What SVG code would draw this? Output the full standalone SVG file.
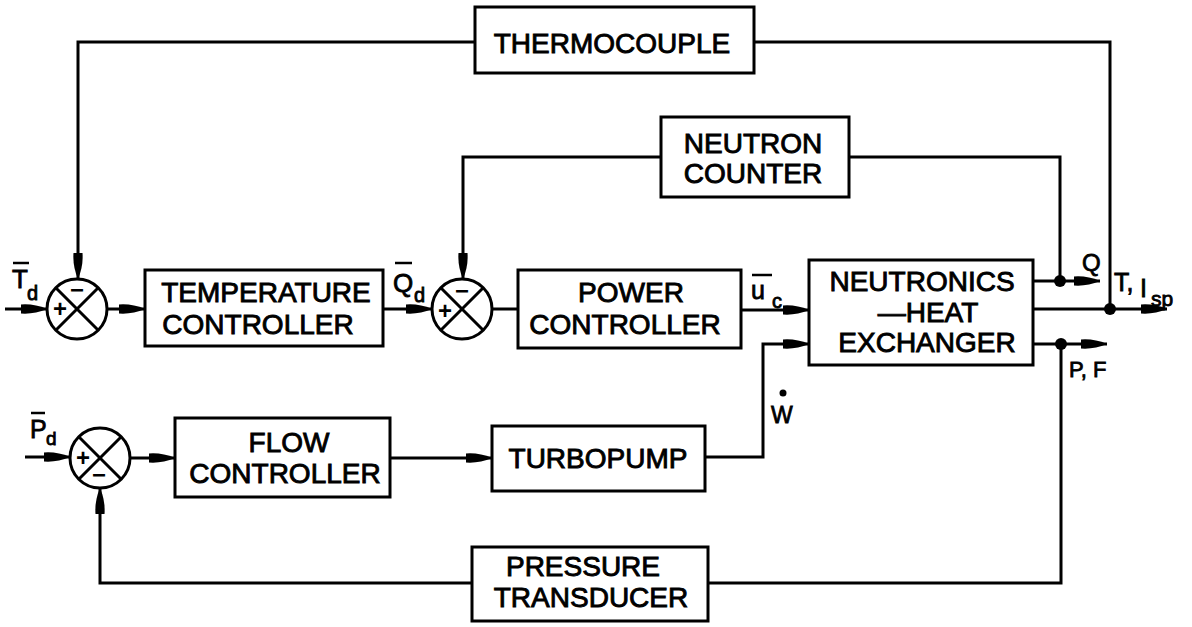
<svg xmlns="http://www.w3.org/2000/svg" width="1192" height="627" viewBox="0 0 1192 627">
<style>
  .box{fill:#fff;stroke:#000;stroke-width:3}
  .lbl{font-family:"Liberation Sans",Arial,sans-serif;font-size:28px;fill:#000;stroke:#000;stroke-width:0.9;text-anchor:middle}
  .sym{font-family:"Liberation Sans",Arial,sans-serif;fill:#000;stroke:#000;stroke-width:0.8}
  .sgn{font-family:"Liberation Sans",Arial,sans-serif;font-size:24px;font-weight:bold;fill:#000;text-anchor:middle}
  .ln{fill:none;stroke:#000;stroke-width:3}
  .sum circle{fill:#fff;stroke:#000;stroke-width:3}
  .sum line{stroke:#000;stroke-width:3}
  .bar{stroke:#000;stroke-width:2.5}
</style>
<defs>
  <marker id="arr" viewBox="0 0 26 12" refX="26" refY="6" markerWidth="26" markerHeight="12" markerUnits="userSpaceOnUse" orient="auto">
    <path d="M0,1.5 Q13,0.5 26,6 Q13,11.5 0,10.5 Z" fill="#000"/>
  </marker>
</defs>
<rect width="1192" height="627" fill="#fff"/>

<g id="connectors">
  <path class="ln" d="M5,309 H47" marker-end="url(#arr)"/>
  <path class="ln" d="M107,309 H145" marker-end="url(#arr)"/>
  <path class="ln" d="M383,309 H432" marker-end="url(#arr)"/>
  <path class="ln" d="M492,309 H518"/>
  <path class="ln" d="M741,310 H809" marker-end="url(#arr)"/>
  <path class="ln" d="M705,457 H763 V344 H809" marker-end="url(#arr)"/>
  <path class="ln" d="M25,457 H70" marker-end="url(#arr)"/>
  <path class="ln" d="M130,458 H175" marker-end="url(#arr)"/>
  <path class="ln" d="M390,458 H492" marker-end="url(#arr)"/>
  <path class="ln" d="M1033,281 H1100" marker-end="url(#arr)"/>
  <path class="ln" d="M1033,309 H1167" marker-end="url(#arr)"/>
  <path class="ln" d="M1033,344 H1107" marker-end="url(#arr)"/>
  <path class="ln" d="M1110,309 V42 H754"/>
  <path class="ln" d="M475,42 H78 V279" marker-end="url(#arr)"/>
  <path class="ln" d="M1060,281 V157 H849"/>
  <path class="ln" d="M661,157 H463 V279" marker-end="url(#arr)"/>
  <path class="ln" d="M1061,344 V583 H708"/>
  <path class="ln" d="M472,583 H100 V488" marker-end="url(#arr)"/>
  <circle cx="1060" cy="281" r="6" fill="#000"/>
  <circle cx="1110" cy="309" r="6" fill="#000"/>
  <circle cx="1061" cy="344" r="6" fill="#000"/>
</g>

<g id="thermocouple">
  <rect class="box" x="475" y="7" width="279" height="66"/>
  <text class="lbl" x="612" y="53">THERMOCOUPLE</text>
</g>
<g id="neutron-counter">
  <rect class="box" x="661" y="117" width="188" height="80"/>
  <text class="lbl" x="753" y="153">NEUTRON</text>
  <text class="lbl" x="753" y="183">COUNTER</text>
</g>
<g id="temperature-controller">
  <rect class="box" x="145" y="270" width="238" height="76"/>
  <text class="lbl" x="266" y="302">TEMPERATURE</text>
  <text class="lbl" x="258" y="334">CONTROLLER</text>
</g>
<g id="power-controller">
  <rect class="box" x="518" y="270" width="223" height="78"/>
  <text class="lbl" x="631" y="302">POWER</text>
  <text class="lbl" x="625" y="334">CONTROLLER</text>
</g>
<g id="neutronics-heat-exchanger">
  <rect class="box" x="809" y="260" width="224" height="105"/>
  <text class="lbl" x="922" y="291">NEUTRONICS</text>
  <text class="lbl" x="928" y="322">—HEAT</text>
  <text class="lbl" x="927" y="352">EXCHANGER</text>
</g>
<g id="flow-controller">
  <rect class="box" x="175" y="418" width="215" height="79"/>
  <text class="lbl" x="289" y="452">FLOW</text>
  <text class="lbl" x="285" y="483">CONTROLLER</text>
</g>
<g id="turbopump">
  <rect class="box" x="492" y="426" width="213" height="65"/>
  <text class="lbl" x="598" y="468">TURBOPUMP</text>
</g>
<g id="pressure-transducer">
  <rect class="box" x="472" y="547" width="236" height="74"/>
  <text class="lbl" x="583" y="576">PRESSURE</text>
  <text class="lbl" x="591" y="607">TRANSDUCER</text>
</g>

<g id="sum-temperature" class="sum">
  <circle cx="77" cy="309" r="30"/>
  <line x1="56" y1="288" x2="98" y2="330"/>
  <line x1="98" y1="288" x2="56" y2="330"/>
  <text class="sgn" x="77" y="298">−</text>
  <text class="sgn" x="60" y="317">+</text>
</g>
<g id="sum-power" class="sum">
  <circle cx="462" cy="309" r="30"/>
  <line x1="441" y1="288" x2="483" y2="330"/>
  <line x1="483" y1="288" x2="441" y2="330"/>
  <text class="sgn" x="462" y="299">−</text>
  <text class="sgn" x="445" y="319">+</text>
</g>
<g id="sum-flow" class="sum">
  <circle cx="100" cy="458" r="30"/>
  <line x1="79" y1="437" x2="121" y2="479"/>
  <line x1="121" y1="437" x2="79" y2="479"/>
  <text class="sgn" x="83" y="466">+</text>
  <text class="sgn" x="99" y="483">−</text>
</g>

<g id="labels">
  <line class="bar" x1="13" y1="263" x2="29" y2="263"/>
  <text class="sym" x="12" y="288" font-size="26">T</text>
  <text class="sym" x="27" y="300" font-size="20">d</text>

  <line class="bar" x1="395" y1="263" x2="412" y2="263"/>
  <text class="sym" x="393" y="292" font-size="26">Q</text>
  <text class="sym" x="414" y="302" font-size="20">d</text>

  <line class="bar" x1="752" y1="275" x2="772" y2="275"/>
  <text class="sym" x="751" y="299" font-size="25">u</text>
  <text class="sym" x="772" y="308" font-size="20">c</text>

  <circle cx="783" cy="393" r="3.5" fill="#000"/>
  <text class="sym" x="771" y="423" font-size="23">W</text>

  <line class="bar" x1="31" y1="413" x2="45" y2="413"/>
  <text class="sym" x="30" y="438" font-size="25">P</text>
  <text class="sym" x="46" y="445" font-size="19">d</text>

  <text class="sym" x="1082" y="271" font-size="24">Q</text>
  <text class="sym" x="1114" y="291" font-size="25">T,</text>
  <text class="sym" x="1140" y="297" font-size="25">I</text>
  <text class="sym" x="1151" y="306" font-size="21">sp</text>
  <text class="sym" x="1069" y="377" font-size="22">P, F</text>
</g>
</svg>
